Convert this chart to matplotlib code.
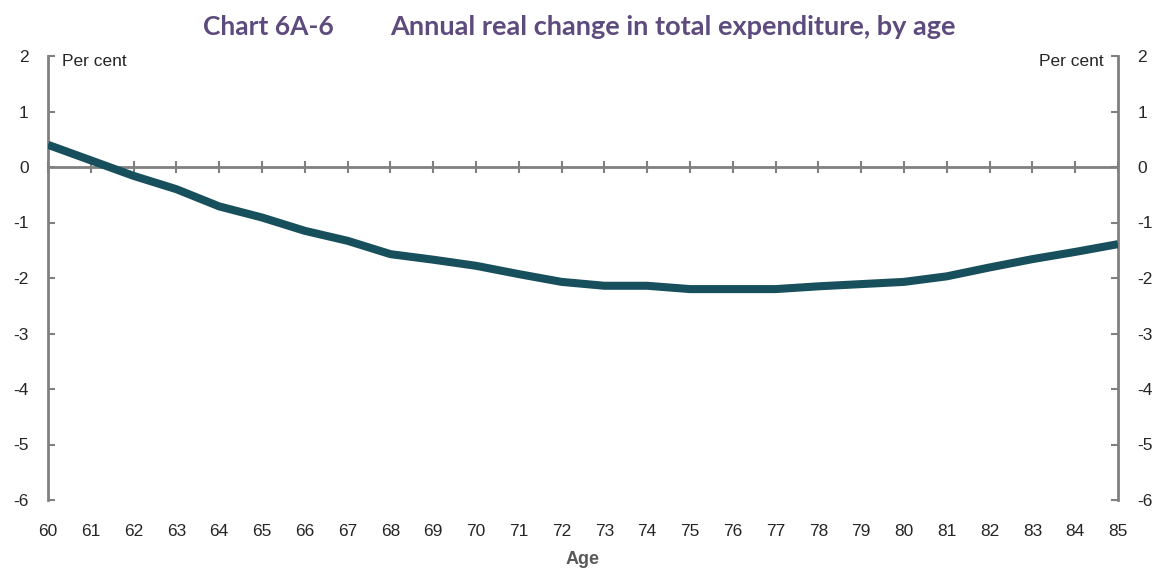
import matplotlib
matplotlib.use('Agg')
import matplotlib.pyplot as plt

# Annual real change in total expenditure, by age (per cent)
ages = list(range(60, 86))
change = [0.40, 0.12, -0.16, -0.40, -0.71, -0.91, -1.15, -1.33, -1.57, -1.67,
          -1.78, -1.93, -2.07, -2.14, -2.14, -2.20, -2.20, -2.20, -2.15, -2.11,
          -2.07, -1.97, -1.81, -1.66, -1.53, -1.39]
y_ticks = [2, 1, 0, -1, -2, -3, -4, -5, -6]

plt.rcParams['font.family'] = ['Liberation Sans', 'DejaVu Sans']
plt.rcParams['axes.unicode_minus'] = False
axis_grey = '#808080'
text_col = '#262626'

fig = plt.figure(figsize=(11.58, 5.68), dpi=100)
ax = fig.add_axes([48 / 1158, 1 - 500 / 568, (1118 - 48) / 1158, (500 - 56) / 568])

ax.plot(ages, change, color='#174f5c', linewidth=5.8, solid_capstyle='butt',
        solid_joinstyle='round', zorder=3)

ax.set_xlim(60, 85)
ax.set_ylim(-6, 2)
ax.axhline(0, color=axis_grey, linewidth=2, zorder=2)

for side in ['top', 'bottom']:
    ax.spines[side].set_visible(False)
for side in ['left', 'right']:
    ax.spines[side].set_color(axis_grey)
    ax.spines[side].set_linewidth(2)

ax.set_yticks(y_ticks)
ax.tick_params(axis='y', which='both', direction='in', length=5, width=1.5,
               color=axis_grey, labelsize=12.5, labelcolor=text_col,
               left=True, right=True, labelleft=True, labelright=True, pad=14)
ax.set_xticks(ages)
ax.tick_params(axis='x', length=0, labelsize=12.5, labelcolor=text_col, pad=17)

# tick marks sitting on the zero line
zero_ax = ax.secondary_xaxis(6 / 8)
zero_ax.set_xticks(ages)
zero_ax.tick_params(direction='inout', length=9, width=1.5, color=axis_grey,
                    labeltop=False, labelbottom=False)
for side in ['top', 'bottom']:
    zero_ax.spines[side].set_visible(False)

ax.set_xlabel('Age', fontsize=13, color='#595959', fontweight='bold', labelpad=9)

ax.text(0.013, 1.9, 'Per cent', transform=ax.get_yaxis_transform(), fontsize=12.5,
        color=text_col, ha='left', va='center')
ax.text(0.987, 1.9, 'Per cent', transform=ax.get_yaxis_transform(), fontsize=12.5,
        color=text_col, ha='right', va='center')

title_col = '#5e4b7e'
fig.text(203 / 1158, 1 - 27 / 568, 'Chart 6A-6', fontsize=19, fontweight='bold',
         color=title_col, family=['Lato', 'DejaVu Sans'], ha='left', va='center')
fig.text(390 / 1158, 1 - 27 / 568, 'Annual real change in total expenditure, by age',
         fontsize=19.5, fontweight='bold', color=title_col, family=['Lato', 'DejaVu Sans'],
         ha='left', va='center')

fig.savefig('out.png', dpi=100)
